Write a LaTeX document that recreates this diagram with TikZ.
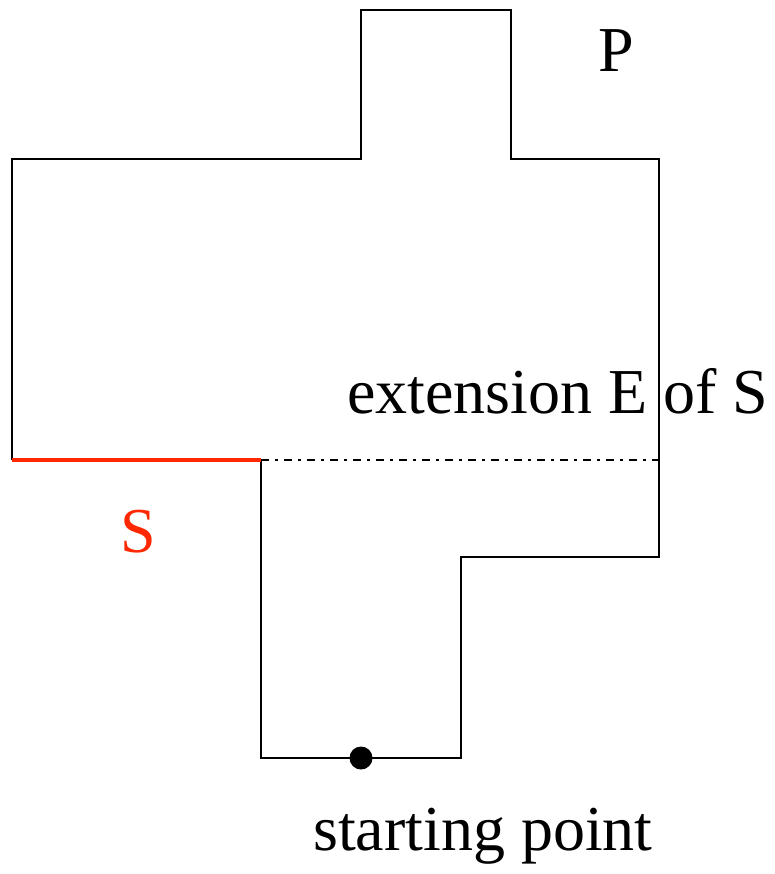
\documentclass[tikz,border=0pt]{standalone}
\usepackage{fontspec}
\setmainfont{Liberation Serif}
\definecolor{sred}{RGB}{255,40,0}
\begin{document}
\begin{tikzpicture}[x=1pt,y=-1pt,
  edge/.style={line width=2.8pt,line join=miter},
  lbl/.style={font=\fontsize{64}{64}\selectfont,inner sep=0pt,anchor=base west},
  ext/.style={line width=1.6pt,dash pattern=on 8pt off 6pt on 3pt off 6pt}]
\useasboundingbox (0,0) rectangle (774,874);
\coordinate (a) at (361,10);
\coordinate (b) at (511,10);
\coordinate (c) at (511,159);
\coordinate (d) at (659,159);
\coordinate (e) at (659,557);
\coordinate (f) at (461,557);
\coordinate (g) at (461,758);
\coordinate (h) at (261,758);
\coordinate (i) at (261,460);
\coordinate (j) at (12,460);
\coordinate (k) at (12,159);
\coordinate (l) at (361,159);
\coordinate (m) at (659,460);
\coordinate (sp) at (361,758);
\draw[edge] (i) -- (h) -- (g) -- (f) -- (e) -- (d) -- (c) -- (b) -- (a) -- (l) -- (k) -- (j);
\draw[line width=4pt,sred] (j) -- (i);
\draw[ext] (i) -- (m);
\fill (sp) circle (11.5);
\node[lbl] (P) at (598,72) {P};
\node[lbl] (E) at (347,413) {extension E of S};
\node[lbl,text=sred] (S) at (120,552) {S};
\node[lbl] (st) at (313,850) {starting point};
\end{tikzpicture}
\end{document}
